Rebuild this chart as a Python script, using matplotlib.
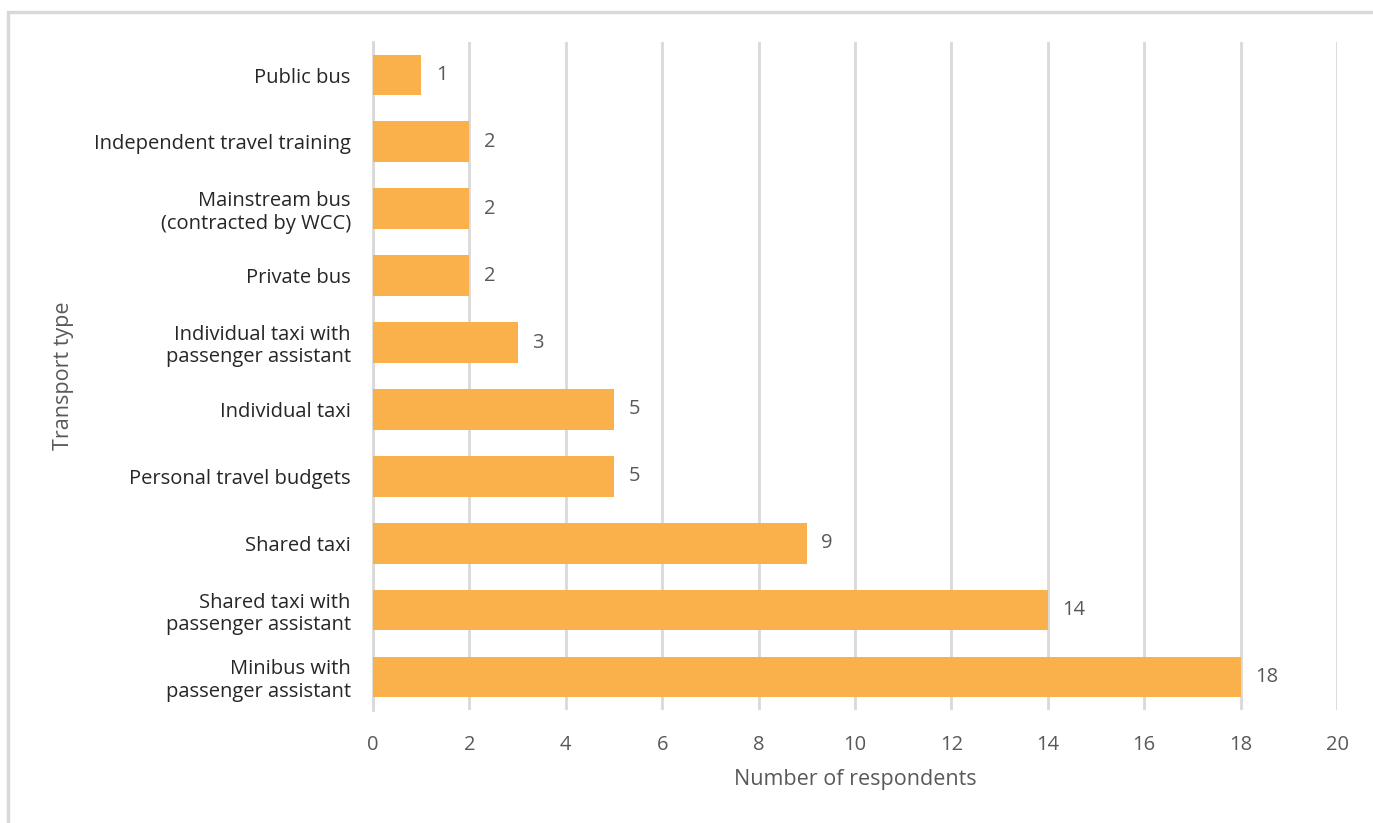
import matplotlib
matplotlib.use("Agg")
import matplotlib.pyplot as plt
import matplotlib.patches as mpatches

plt.rcParams["font.family"] = ["Open Sans", "DejaVu Sans"]

# Survey data (top to bottom as shown)
categories = [
    "Public bus",
    "Independent travel training",
    "Mainstream bus\n(contracted by WCC)",
    "Private bus",
    "Individual taxi with\npassenger assistant",
    "Individual taxi",
    "Personal travel budgets",
    "Shared taxi",
    "Shared taxi with\npassenger assistant",
    "Minibus with\npassenger assistant",
]
respondents = [1, 2, 2, 2, 3, 5, 5, 9, 14, 18]
x_ticks = [0, 2, 4, 6, 8, 10, 12, 14, 16, 18, 20]

bar_color = "#FBB14B"
grid_color = "#D9D9D9"
tick_gray = "#595959"
label_dark = "#262626"

fig = plt.figure(figsize=(13.73, 8.23), dpi=100)
ax = fig.add_axes([0.2717, 0.1368, 0.7021, 0.8127])

# light gray frame round the chart area (cut off at right and bottom)
border = mpatches.Rectangle(
    (8 / 1373, -0.05), 1.1, 1 - 12 / 823 + 0.05,
    transform=fig.transFigure, fill=False, edgecolor="#D9D9D9", linewidth=2.5,
)
fig.patches.append(border)

ypos = list(range(len(categories)))
bars = ax.barh(ypos, respondents, height=0.61, color=bar_color, zorder=3)

ax.set_ylim(len(categories) - 0.5, -0.5)
ax.set_xlim(0, 20)
ax.set_xticks(x_ticks)
ax.set_yticks(ypos)
ax.set_yticklabels(categories, fontsize=14.5, color=label_dark, linespacing=1.15)
ax.tick_params(axis="x", labelsize=14.5, labelcolor=tick_gray, length=0, pad=18)
ax.tick_params(axis="y", length=0, pad=16)

ax.grid(axis="x", color=grid_color, linewidth=2, zorder=0)
for s in ["top", "right", "bottom"]:
    ax.spines[s].set_visible(False)
ax.spines["left"].set_color(grid_color)
ax.spines["left"].set_linewidth(2)

for b, v in zip(bars, respondents):
    ax.text(v + 0.3, b.get_y() + b.get_height() / 2, str(v),
            va="center", ha="left", fontsize=14.5, color=tick_gray)

ax.set_xlabel("Number of respondents", fontsize=15.5, color=tick_gray, labelpad=10)
ax.set_ylabel("Transport type", fontsize=15.5, color=tick_gray)
ax.yaxis.set_label_coords(-0.31, 0.5)

fig.savefig("out.png", dpi=100)
